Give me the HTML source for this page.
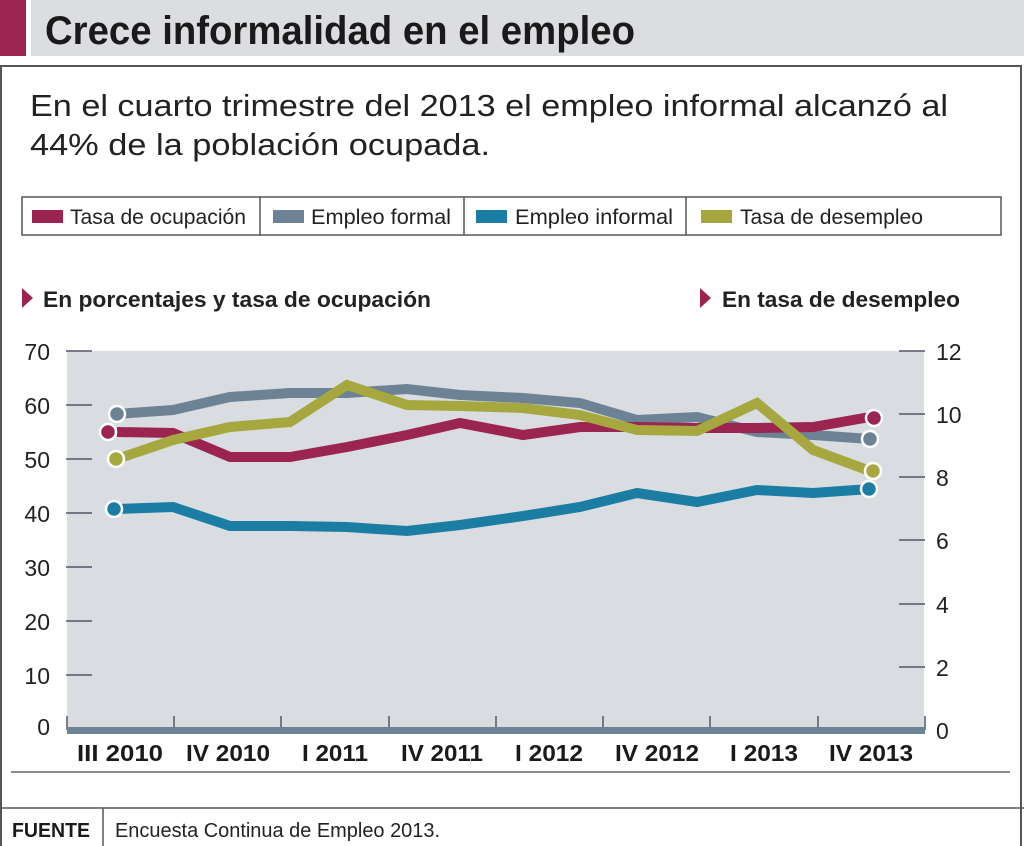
<!DOCTYPE html>
<html><head><meta charset="utf-8"><style>
html,body{margin:0;padding:0;background:#fff;}
svg{display:block;}
text{font-family:"Liberation Sans",sans-serif;}
</style></head><body>
<svg width="1024" height="846" viewBox="0 0 1024 846" xmlns="http://www.w3.org/2000/svg">
<rect x="0" y="0" width="1024" height="846" fill="#fff"/>
<!-- header -->
<rect x="0" y="0" width="26" height="56" fill="#9b2450"/>
<rect x="31" y="0" width="993" height="56" fill="#dcdde1"/>
<text x="45" y="44" font-size="40" font-weight="bold" fill="#1a1a1a" textLength="590" lengthAdjust="spacingAndGlyphs">Crece informalidad en el empleo</text>
<!-- outer box -->
<rect x="1" y="66" width="1020" height="790" fill="none" stroke="#555" stroke-width="2"/>
<text x="30" y="116" font-size="31" fill="#222" textLength="918" lengthAdjust="spacingAndGlyphs">En el cuarto trimestre del 2013 el empleo informal alcanzó al</text>
<text x="30" y="155" font-size="31" fill="#222" textLength="460" lengthAdjust="spacingAndGlyphs">44% de la población ocupada.</text>
<!-- legend -->
<rect x="22" y="197" width="979" height="38" fill="none" stroke="#555" stroke-width="1.5"/>
<line x1="260" y1="197" x2="260" y2="235" stroke="#555" stroke-width="1.5"/>
<line x1="464" y1="197" x2="464" y2="235" stroke="#555" stroke-width="1.5"/>
<line x1="686" y1="197" x2="686" y2="235" stroke="#555" stroke-width="1.5"/>
<rect x="32" y="210" width="31" height="13" fill="#9b2450"/>
<text x="70" y="224" font-size="21" fill="#222" textLength="176" lengthAdjust="spacingAndGlyphs">Tasa de ocupación</text>
<rect x="273" y="210" width="31" height="13" fill="#6d8294"/>
<text x="311" y="224" font-size="21" fill="#222" textLength="140" lengthAdjust="spacingAndGlyphs">Empleo formal</text>
<rect x="476" y="210" width="31" height="13" fill="#1b7da3"/>
<text x="515" y="224" font-size="21" fill="#222" textLength="158" lengthAdjust="spacingAndGlyphs">Empleo informal</text>
<rect x="701" y="210" width="31" height="13" fill="#a6a83f"/>
<text x="740" y="224" font-size="21" fill="#222" textLength="183" lengthAdjust="spacingAndGlyphs">Tasa de desempleo</text>
<!-- subtitles -->
<polygon points="22,288 33,298 22,308" fill="#9b2450"/>
<text x="43" y="307" font-size="22" font-weight="bold" fill="#222" textLength="388" lengthAdjust="spacingAndGlyphs">En porcentajes y tasa de ocupación</text>
<polygon points="700,288 711,298 700,308" fill="#9b2450"/>
<text x="722" y="307" font-size="22" font-weight="bold" fill="#222" textLength="238" lengthAdjust="spacingAndGlyphs">En tasa de desempleo</text>
<!-- plot -->
<rect x="67" y="351" width="857" height="379" fill="#d9dce0"/>
<g stroke="#556" stroke-width="1.5">
<line x1="66" y1="351" x2="92" y2="351"/><line x1="66" y1="405" x2="92" y2="405"/>
<line x1="66" y1="459" x2="92" y2="459"/><line x1="66" y1="513" x2="92" y2="513"/>
<line x1="66" y1="567" x2="92" y2="567"/><line x1="66" y1="621" x2="92" y2="621"/>
<line x1="66" y1="675" x2="92" y2="675"/>
<line x1="899" y1="351" x2="925" y2="351"/><line x1="899" y1="414" x2="925" y2="414"/>
<line x1="899" y1="477" x2="925" y2="477"/><line x1="899" y1="540" x2="925" y2="540"/>
<line x1="899" y1="604" x2="925" y2="604"/><line x1="899" y1="667" x2="925" y2="667"/>
<line x1="67" y1="716" x2="67" y2="730"/><line x1="174" y1="716" x2="174" y2="730"/>
<line x1="281" y1="716" x2="281" y2="730"/><line x1="389" y1="716" x2="389" y2="730"/>
<line x1="496" y1="716" x2="496" y2="730"/><line x1="603" y1="716" x2="603" y2="730"/>
<line x1="710" y1="716" x2="710" y2="730"/><line x1="818" y1="716" x2="818" y2="730"/>
<line x1="925" y1="716" x2="925" y2="730"/>
</g>
<rect x="67" y="727" width="858" height="7" fill="#6d8294"/>
<g font-size="23" fill="#222" text-anchor="end">
<text x="50" y="360">70</text><text x="50" y="414">60</text><text x="50" y="468">50</text>
<text x="50" y="522">40</text><text x="50" y="576">30</text><text x="50" y="630">20</text>
<text x="50" y="684">10</text><text x="50" y="735">0</text>
</g>
<g font-size="23" fill="#222">
<text x="936" y="360">12</text><text x="936" y="423">10</text><text x="936" y="486">8</text>
<text x="936" y="549">6</text><text x="936" y="613">4</text><text x="936" y="676">2</text>
<text x="936" y="739">0</text>
</g>
<g font-size="23" font-weight="bold" fill="#1a1a1a" text-anchor="middle">
<text x="120" y="761" textLength="86" lengthAdjust="spacingAndGlyphs">III 2010</text>
<text x="228" y="761" textLength="84" lengthAdjust="spacingAndGlyphs">IV 2010</text>
<text x="335" y="761" textLength="66" lengthAdjust="spacingAndGlyphs">I 2011</text>
<text x="442" y="761" textLength="82" lengthAdjust="spacingAndGlyphs">IV 2011</text>
<text x="549" y="761" textLength="68" lengthAdjust="spacingAndGlyphs">I 2012</text>
<text x="657" y="761" textLength="84" lengthAdjust="spacingAndGlyphs">IV 2012</text>
<text x="764" y="761" textLength="68" lengthAdjust="spacingAndGlyphs">I 2013</text>
<text x="871" y="761" textLength="84" lengthAdjust="spacingAndGlyphs">IV 2013</text>
</g>
<!-- series -->
<g fill="none" stroke-width="10" stroke-linejoin="miter">
<polyline stroke="#6d8294" points="117,414 173,410 230,397 290,393 347,393 407,389 460,395 523,398 580,403 637,420 697,417 757,432 813,435 870,439"/>
<polyline stroke="#9b2450" points="117,432 173,433 230,457 290,457 347,447 407,435 460,423 523,435 580,427 637,427 697,428 757,428 813,427 870,417"/>
<polyline stroke="#a6a83f" points="117,459 173,440 230,427 290,422 347,385 407,405 460,406 523,408 580,415 637,430 697,431 757,403 813,450 870,471"/>
<polyline stroke="#1b7da3" points="117,509 173,507 230,526 290,526 347,527 407,531 460,525 523,516 580,507 637,493 697,502 757,490 813,493 870,489"/>
</g>
<g stroke="#fff" stroke-width="2.5">
<circle cx="117" cy="414" r="8" fill="#6d8294"/>
<circle cx="108" cy="432" r="8" fill="#9b2450"/>
<circle cx="116" cy="459" r="8" fill="#a6a83f"/>
<circle cx="114" cy="509" r="8" fill="#1b7da3"/>
<circle cx="874" cy="418" r="8" fill="#9b2450"/>
<circle cx="870" cy="439" r="8" fill="#6d8294"/>
<circle cx="873" cy="471" r="8" fill="#a6a83f"/>
<circle cx="869" cy="489" r="8" fill="#1b7da3"/>
</g>
<!-- bottom -->
<line x1="11" y1="772" x2="1010" y2="772" stroke="#666" stroke-width="1.5"/>
<line x1="0" y1="808" x2="1024" y2="808" stroke="#555" stroke-width="1.5"/>
<line x1="103" y1="808" x2="103" y2="846" stroke="#555" stroke-width="1.5"/>
<text x="12" y="837" font-size="20" font-weight="bold" fill="#1a1a1a" textLength="78" lengthAdjust="spacingAndGlyphs">FUENTE</text>
<text x="115" y="837" font-size="20" fill="#222" textLength="325" lengthAdjust="spacingAndGlyphs">Encuesta Continua de Empleo 2013.</text>
</svg>
</body></html>
